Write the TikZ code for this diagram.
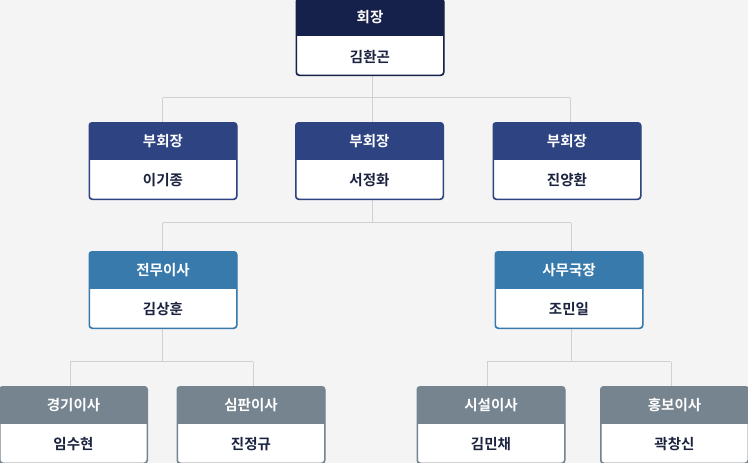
\documentclass[tikz,border=0pt]{standalone}
\usepackage{fontspec}
\setmainfont{Noto Sans CJK KR}[BoldFont={* Bold}]
\usetikzlibrary{backgrounds}
\definecolor{bgc}{HTML}{F4F4F4}
\definecolor{linec}{HTML}{D0D0D0}
\definecolor{cTop}{HTML}{15204B}
\definecolor{cVice}{HTML}{2E4482}
\definecolor{cDir}{HTML}{387AAB}
\definecolor{cMem}{HTML}{76848F}
\definecolor{nameC}{HTML}{1B2340}
\tikzset{
  boxshape/.style={draw=#1, fill=white, rounded corners=3pt, line width=1pt,
    minimum width=147pt, minimum height=76pt, inner sep=0pt},
  titletext/.style={text=white, font=\fontsize{14.5}{16}\selectfont\bfseries, inner sep=0pt},
  nametext/.style={text=nameC, font=\fontsize{14.5}{16}\selectfont\bfseries, inner sep=0pt},
  conn/.style={draw=linec, line width=1pt},
}
\newcommand{\orgbox}[6]{%
  % #1 name, #2 x, #3 y(center), #4 colour, #5 title, #6 person
  \node[boxshape=#4] (#1) at (#2,#3) {};
  \begin{scope}
    \clip[rounded corners=3pt] (#1.north west) rectangle (#1.south east);
    \fill[#4] (#1.north west) rectangle ([yshift=-37pt]#1.north east);
  \end{scope}
  \draw[#4, line width=1pt, rounded corners=3pt] (#1.north west) rectangle (#1.south east);
  \node[titletext] (#1-t) at ([yshift=-18.5pt]#1.north) {#5};
  \node[nametext] (#1-p) at ([yshift=19pt]#1.south) {#6};
}
\begin{document}
\begin{tikzpicture}[x=1pt,y=-1pt]
\useasboundingbox (0,0) rectangle (748,463);

% boxes
\orgbox{top}{370}{37}{cTop}{회장}{김환곤}
\orgbox{v1}{163}{161}{cVice}{부회장}{이기종}
\orgbox{v2}{369.5}{161}{cVice}{부회장}{서정화}
\orgbox{v3}{567}{161}{cVice}{부회장}{진양환}
\orgbox{d1}{163}{290}{cDir}{전무이사}{김상훈}
\orgbox{d2}{569}{290}{cDir}{사무국장}{조민일}
\orgbox{m1}{73.5}{425}{cMem}{경기이사}{임수현}
\orgbox{m2}{251}{425}{cMem}{심판이사}{진정규}
\orgbox{m3}{491}{425}{cMem}{시설이사}{김민채}
\orgbox{m4}{674.5}{425}{cMem}{홍보이사}{곽창신}

% junction coordinates
\coordinate (j1) at (372,97.5);
\coordinate (j1l) at (162.5,97.5);
\coordinate (j1r) at (570,97.5);
\coordinate (j2) at (372,222.5);
\coordinate (j2l) at (162.5,222.5);
\coordinate (j2r) at (571,222.5);
\coordinate (j3) at (162.5,361.5);
\coordinate (j3l) at (70,361.5);
\coordinate (j3r) at (253,361.5);
\coordinate (j4) at (571,361.5);
\coordinate (j4l) at (487,361.5);
\coordinate (j4r) at (671,361.5);

\begin{scope}[on background layer]
\fill[bgc] (0,0) rectangle (748,463);
% connectors
\draw[conn] (j1 |- top.south) -- (j1);
\draw[conn] (j1l) -- (j1r);
\draw[conn] (j1l) -- (j1l |- v1.north);
\draw[conn] (j1) -- (j1 |- v2.north);
\draw[conn] (j1r) -- (j1r |- v3.north);
\draw[conn] (j2 |- v2.south) -- (j2);
\draw[conn] (j2l) -- (j2r);
\draw[conn] (j2l) -- (j2l |- d1.north);
\draw[conn] (j2r) -- (j2r |- d2.north);
\draw[conn] (j3 |- d1.south) -- (j3);
\draw[conn] (j3l) -- (j3r);
\draw[conn] (j3l) -- (j3l |- m1.north);
\draw[conn] (j3r) -- (j3r |- m2.north);
\draw[conn] (j4 |- d2.south) -- (j4);
\draw[conn] (j4l) -- (j4r);
\draw[conn] (j4l) -- (j4l |- m3.north);
\draw[conn] (j4r) -- (j4r |- m4.north);
\end{scope}
\end{tikzpicture}
\end{document}
